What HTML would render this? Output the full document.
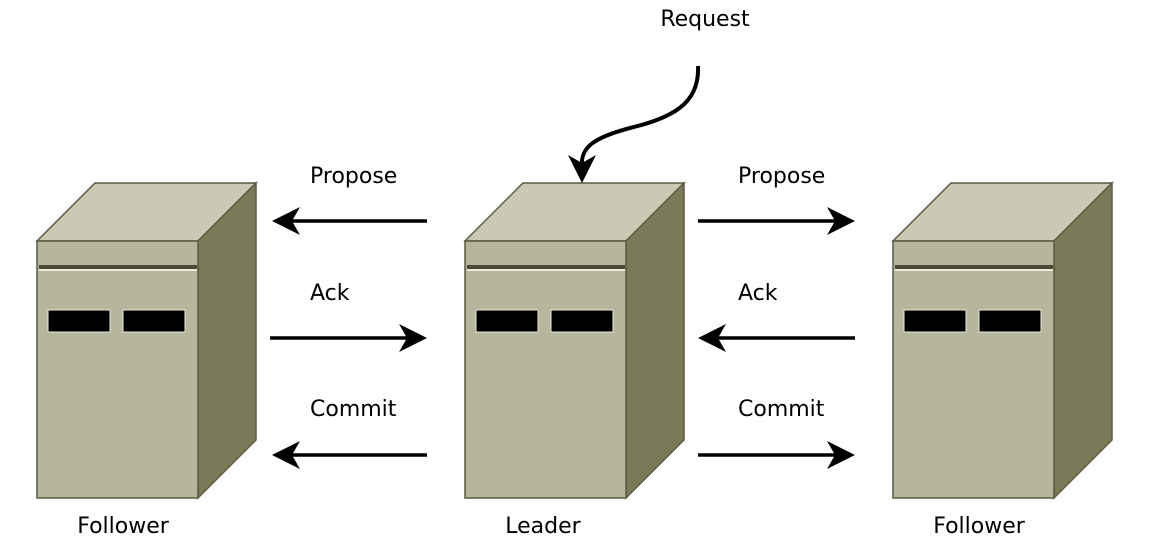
<!DOCTYPE html>
<html><head><style>body{margin:0;background:#fff}svg{display:block}text{font-family:"DejaVu Sans",sans-serif;font-size:22px;fill:#000}</style></head><body>
<svg width="1156" height="547" viewBox="0 0 1156 547">
<defs>
<g id="srv">
<polygon points="37,241 95,183 256,183 198,241" fill="#c9c9b4" stroke="#5a5a40" stroke-width="1.5"/>
<polygon points="198,241 256,183 256,440 198,498" fill="#7a7a58" stroke="#5a5a40" stroke-width="1.5"/>
<rect x="37" y="241" width="161" height="257" fill="#b6b69c" stroke="#5a5a40" stroke-width="1.5"/>
<rect x="39" y="265" width="158" height="4" fill="#4a4a34"/>
<rect x="39" y="269" width="158" height="2" fill="#e8e8dc"/>
<rect x="48" y="310" width="62" height="22" fill="#000" stroke="#e8e8dc" stroke-width="1"/>
<rect x="123" y="310" width="62" height="22" fill="#000" stroke="#e8e8dc" stroke-width="1"/>
</g>
</defs>
<use href="#srv"/>
<use href="#srv" x="428"/>
<use href="#srv" x="856"/>
<g stroke="#000" stroke-width="3.5" fill="none">
<path d="M427,221H280"/><path d="M270,338H418"/><path d="M427,455H280"/>
<path d="M698,221H846"/><path d="M855,338H708"/><path d="M698,455H846"/>
<path d="M698,66 C700,105 670,118 630,128 C592,138 580,148 582,168" stroke-width="4"/>
</g>
<g fill="#000">
<path d="M272,221 L300,207 L292,221 L300,235Z"/>
<path d="M427,338 L399,324 L407,338 L399,352Z"/>
<path d="M272,455 L300,441 L292,455 L300,469Z"/>
<path d="M855,221 L827,207 L835,221 L827,235Z"/>
<path d="M698,338 L726,324 L718,338 L726,352Z"/>
<path d="M855,455 L827,441 L835,455 L827,469Z"/>
<path d="M582,183 L568,155 L582,163 L596,155Z"/>
</g>
<text x="705" y="26" text-anchor="middle">Request</text>
<text x="310" y="183">Propose</text><text x="310" y="300">Ack</text><text x="310" y="416">Commit</text>
<text x="738" y="183">Propose</text><text x="738" y="300">Ack</text><text x="738" y="416">Commit</text>
<text x="123" y="533" text-anchor="middle">Follower</text>
<text x="543" y="533" text-anchor="middle">Leader</text>
<text x="979" y="533" text-anchor="middle">Follower</text>
</svg>
</body></html>
